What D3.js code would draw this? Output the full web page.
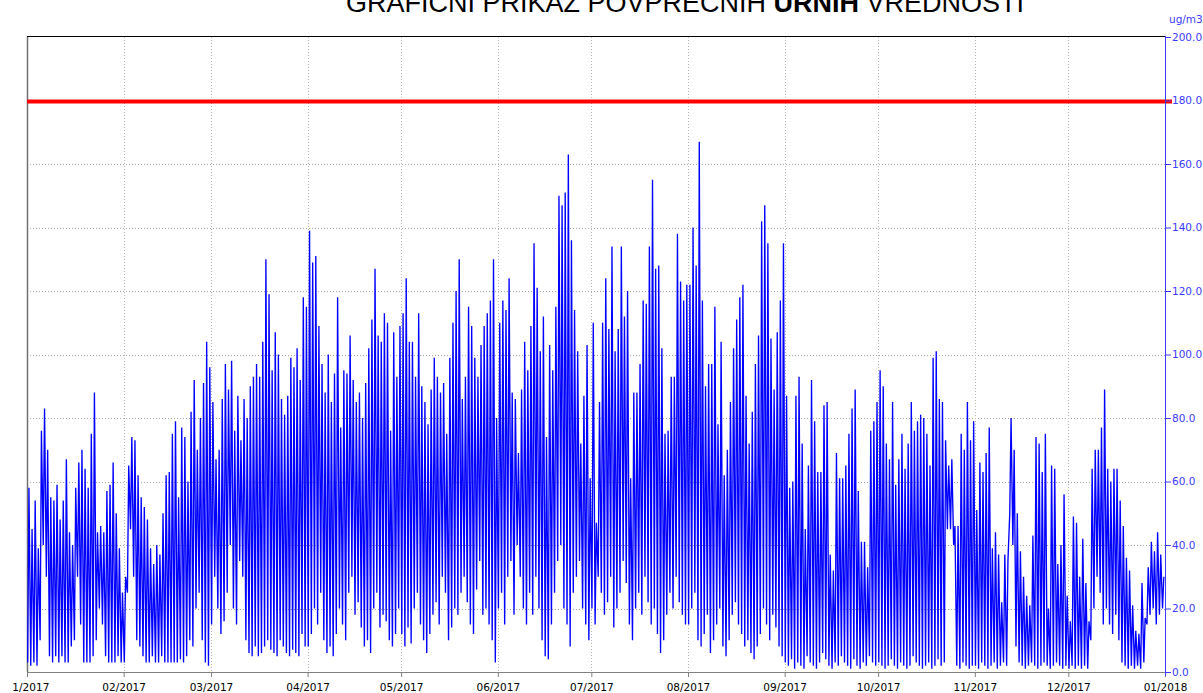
<!DOCTYPE html>
<html>
<head>
<meta charset="utf-8">
<script src="https://cdn.jsdelivr.net/npm/d3@7"></script>
<style>
  body { margin: 0; background: #fff; }
  svg { display: block; }
</style>
</head>
<body>
<svg width="1203" height="693"></svg>
<script>
// month tick labels along the bottom
var monthLabels = ["01/2017", "02/2017", "03/2017", "04/2017", "05/2017", "06/2017",
                   "07/2017", "08/2017", "09/2017", "10/2017", "11/2017", "12/2017", "01/2018"];
var yTicks = [0, 20, 40, 60, 80, 100, 120, 140, 160, 180, 200];
var limitValue = 180;
var unitLabel = "ug/m3";

// daily peak (afternoon) and low (night) values, ug/m3
var janMax = [58,45,54,39,76,83,70,55,54,59,48,54,67,44,40,58,66,70,64,58,75,88,44,46,44,57,59,66,50,39,25];
var janMin = [3,2,3,2,10,40,30,5,3,5,3,5,3,3,8,10,30,15,3,3,3,5,10,20,15,5,3,3,3,5,3];
var febMax = [30,65,74,73,62,55,52,48,39,34,40,37,50,62,63,75,79,55,77,74,60,82,92,70,80,91,104,96];
var febMin = [3,25,45,30,10,8,5,3,3,5,3,3,5,3,3,3,3,3,4,3,5,10,8,20,25,10,3,2];
var marMax = [85,67,70,86,97,89,98,76,87,73,86,80,90,93,97,93,104,130,119,95,107,100,86,81,87,99,96,102,92,118,115];
var marMin = [15,30,20,12,16,25,40,20,15,35,30,10,6,5,8,5,6,8,10,7,6,5,10,8,6,5,7,6,5,12,8];
var aprMax = [139,129,131,109,97,88,100,85,94,118,77,95,94,106,92,85,88,80,91,102,111,127,106,104,113,110,76,107,93,109];
var aprMin = [8,12,20,15,25,10,6,8,5,12,20,15,10,25,30,18,22,14,8,10,6,20,25,14,18,16,10,8,12,20];
var mayMax = [113,124,104,104,93,113,90,85,78,89,99,93,88,91,75,99,110,120,130,86,93,115,109,99,93,103,109,113,117,130,80];
var mayMin = [12,8,14,9,20,25,15,10,6,12,18,22,15,30,25,10,14,20,18,25,30,22,15,12,26,35,18,20,15,10,3];
var junMax = [110,117,114,124,88,86,69,89,104,95,109,135,121,101,112,74,103,95,115,150,147,151,163,136,114,101,72,87,103,61];
var junMin = [20,25,15,30,35,18,40,30,20,15,25,18,30,20,10,5,4,15,25,35,40,20,15,8,25,30,35,20,15,10];
var julMax = [110,47,85,110,124,108,134,101,108,134,112,120,61,88,88,97,117,116,134,155,127,128,102,75,76,93,93,138,123,117,122];
var julMin = [20,15,30,25,18,22,30,14,20,25,35,28,15,10,20,25,18,30,22,15,20,12,6,10,18,25,20,30,22,18,15];
var augMax = [122,140,128,167,117,90,97,97,115,78,104,62,70,85,102,111,118,122,87,72,82,97,106,142,147,135,105,89,107,117,135];
var augMin = [15,20,25,10,8,12,18,6,10,15,20,8,5,10,18,22,15,12,8,10,6,4,8,12,20,15,10,18,14,8,5];
var sepMax = [87,58,60,87,93,72,45,65,92,79,63,63,84,85,37,32,69,61,61,65,75,83,89,57,41,41,33,76,79,85];
var sepMin = [3,2,4,1,3,2,1,5,3,2,1,3,6,4,2,1,3,2,5,3,2,1,4,2,1,3,2,5,3,2];
var octMax = [95,90,72,67,85,59,67,75,64,72,85,76,79,81,80,75,65,99,101,86,85,73,65,67,46,46,75,70,85,73,79];
var octMin = [3,2,1,2,4,2,1,3,2,1,2,5,3,2,1,2,3,1,2,4,2,3,45,45,40,2,1,3,2,1,2];
var novMax = [51,66,63,69,77,39,44,37,22,37,35,80,70,50,38,30,24,21,43,74,72,63,75,20,65,64,34,40,56,24];
var novMin = [2,1,3,2,1,2,3,1,2,3,2,50,40,8,3,2,1,2,3,2,1,2,3,2,1,2,3,2,1,2];
var decMax = [16,49,47,30,42,28,16,64,70,70,77,89,64,60,64,64,54,46,36,32,21,13,12,28,17,33,41,38,44,37,30];
var decMin = [1,2,1,2,1,2,1,10,20,30,25,15,20,15,12,18,10,3,2,1,2,1,2,1,3,15,18,20,15,18,20];

var dailyMax = [].concat(janMax, febMax, marMax, aprMax, mayMax, junMax, julMax, augMax, sepMax, octMax, novMax, decMax);
var dailyMin = [].concat(janMin, febMin, marMin, aprMin, mayMin, junMin, julMin, augMin, sepMin, octMin, novMin, decMin);

var svg = d3.select("svg"),
    margin = {top: 37, right: 1165, bottom: 672, left: 27};

var parseMonth = d3.utcParse("%m/%Y");
var monthDates = monthLabels.map(function (m) { return parseMonth(m); });
var start = monthDates[0];

// low in the early morning, peak in the afternoon
var series = [];
dailyMax.forEach(function (mx, i) {
    var day = d3.utcDay.offset(start, i);
    series.push({ t: d3.utcHour.offset(day, 5), v: dailyMin[i] });
    series.push({ t: d3.utcHour.offset(day, 15), v: mx });
});

var x = d3.scaleUtc().domain([monthDates[0], monthDates[monthDates.length - 1]]).range([margin.left, margin.right]);
var y = d3.scaleLinear().domain([0, 200]).range([margin.bottom, margin.top]);

svg.append("rect").attr("width", 1203).attr("height", 693).attr("fill", "#fff");

// title, cut off at the top edge
var title = svg.append("text")
    .attr("x", 685).attr("y", 12)
    .attr("text-anchor", "middle")
    .style("font", "27px 'Liberation Sans', Arial, sans-serif")
    .attr("fill", "#000");
title.append("tspan").text("GRAFIČNI PRIKAZ POVPREČNIH ");
title.append("tspan").style("font-weight", "bold").text("URNIH");
title.append("tspan").text(" VREDNOSTI");

// dotted grid
svg.append("g").selectAll("line")
    .data(yTicks.filter(function (d) { return d > 0 && d < 200; }))
    .enter().append("line")
    .attr("x1", margin.left).attr("x2", margin.right)
    .attr("y1", function (d) { return Math.round(y(d)) + 0.5; })
    .attr("y2", function (d) { return Math.round(y(d)) + 0.5; })
    .attr("stroke", "#a8a8a8").attr("stroke-dasharray", "1,2");

svg.append("g").selectAll("line")
    .data(monthDates.slice(1, -1))
    .enter().append("line")
    .attr("x1", function (d) { return Math.round(x(d)) + 0.5; })
    .attr("x2", function (d) { return Math.round(x(d)) + 0.5; })
    .attr("y1", margin.top).attr("y2", margin.bottom)
    .attr("stroke", "#b8b8b8").attr("stroke-dasharray", "1,2");

// frame
svg.append("line").attr("x1", margin.left).attr("x2", margin.right)
    .attr("y1", margin.top - 0.5).attr("y2", margin.top - 0.5)
    .attr("stroke", "#000");
svg.append("line").attr("x1", margin.left + 0.5).attr("x2", margin.left + 0.5)
    .attr("y1", margin.top).attr("y2", margin.bottom)
    .attr("stroke", "#707070").attr("stroke-width", 1.5);

// data
var line = d3.line()
    .x(function (d) { return x(d.t); })
    .y(function (d) { return y(d.v); });

svg.append("path")
    .datum(series)
    .attr("fill", "none")
    .attr("stroke", "#0000ff")
    .attr("stroke-width", 1.35)
    .attr("d", line);

// limit line
svg.append("line")
    .attr("x1", margin.left).attr("x2", margin.right + 7)
    .attr("y1", y(limitValue) + 1).attr("y2", y(limitValue) + 1)
    .attr("stroke", "#ff0000").attr("stroke-width", 4);

// bottom axis
svg.append("clipPath").attr("id", "xclip")
    .append("rect").attr("x", 12).attr("y", 0).attr("width", 1203).attr("height", 693);

var xAxis = svg.append("g")
    .attr("transform", "translate(0," + margin.bottom + ")")
    .attr("clip-path", "url(#xclip)")
    .call(d3.axisBottom(x).tickValues(monthDates).tickFormat(d3.utcFormat("%m/%Y")).tickSize(5).tickSizeOuter(0));
xAxis.select(".domain").attr("stroke", "#808080");
xAxis.selectAll(".tick line").attr("stroke", "#808080");
xAxis.selectAll(".tick text")
    .attr("dy", "1.05em")
    .attr("fill", "#000")
    .style("font", "10.5px 'DejaVu Sans', sans-serif");

// right axis
var blue = "#3c3cff";
var yAxis = svg.append("g")
    .attr("transform", "translate(" + margin.right + ",0)")
    .call(d3.axisRight(y).tickValues(yTicks).tickFormat(d3.format(".1f")).tickSize(6).tickPadding(1).tickSizeOuter(0));
yAxis.select(".domain").attr("stroke", blue).attr("d", "M0.5," + (margin.top - 1) + "V" + (margin.bottom + 4));
yAxis.selectAll(".tick line").attr("stroke", blue);
yAxis.selectAll(".tick text")
    .attr("fill", blue)
    .style("font", "10.5px 'DejaVu Sans', sans-serif");

svg.append("text")
    .attr("x", 1169).attr("y", 23)
    .attr("fill", blue)
    .style("font", "10.5px 'DejaVu Sans', sans-serif")
    .text(unitLabel);
</script>
</body>
</html>
